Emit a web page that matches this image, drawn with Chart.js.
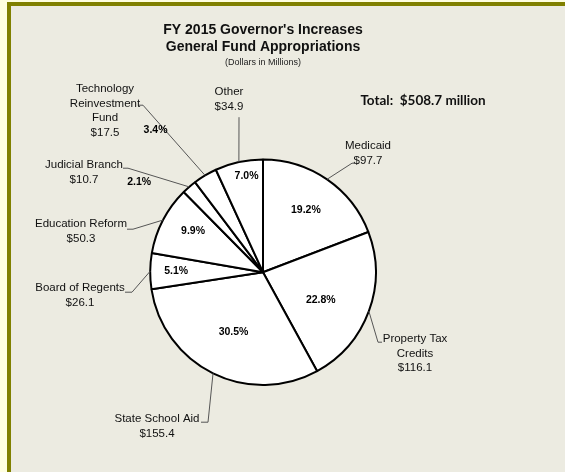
<!DOCTYPE html>
<html>
<head>
<meta charset="utf-8">
<script src="https://cdn.jsdelivr.net/npm/chart.js@4"></script>
<style>
  body { margin: 0; background: #ffffe0; }
  .frame { position: absolute; left: 7px; top: 2px; width: 600px; height: 500px;
           border-left: 4px solid #808000; border-top: 4px solid #808000; background: #ecebe1; }
  #pie { position: absolute; left: 0; top: 0; }
</style>
</head>
<body>
<div class="frame"></div>
<canvas id="pie" width="565" height="472"></canvas>
<script>
// data, clockwise from 12 o'clock
var categories = ["Medicaid", "Property Tax Credits", "State School Aid", "Board of Regents",
                  "Education Reform", "Judicial Branch", "Technology Reinvestment Fund", "Other"];
var amounts = [97.7, 116.1, 155.4, 26.1, 50.3, 10.7, 17.5, 34.9];
var percents = [19.2, 22.8, 30.5, 5.1, 9.9, 2.1, 3.4, 7.0];
var labelLines = [
  ["Medicaid"], ["Property Tax", "Credits"], ["State School Aid"], ["Board of Regents"],
  ["Education Reform"], ["Judicial Branch"], ["Technology", "Reinvestment", "Fund"], ["Other"]
];
var totalText = "Total:  $508.7 million";

// label layout (relative to pie centre)
var pctRadius = [0.67, 0.57, 0.59, 0.77, 0.72, 1.36, 1.58, 0.86];
var pctShift  = [0, 5.8, 0, 0, 3, -13, -6.2, 2.6];
var textPos   = [[105, -126], [152, 67], [-106, 147], [-183, 16], [-182, -48], [-179, -107], [-158, -183], [-34, -180]];
var elbowPos  = [[89, -109], [115, 70], [-55, 150], [-131, 20], [-130, -43], [-135, -104], [-120, -167], [-24, -155]];
var endPos    = [[92, -109], [119, 70], [-62, 150], [-138, 20], [-136, -43], [-140, -104], [-124, -167], [-24, -155]];

var pieLabels = {
  id: 'pieLabels',
  afterDatasetsDraw: function(chart) {
    var ctx = chart.ctx;
    var arcs = chart.getDatasetMeta(0).data;
    ctx.save();
    ctx.textAlign = 'center';
    ctx.textBaseline = 'middle';
    arcs.forEach(function(arc, i) {
      var p = arc.getProps(['x', 'y', 'startAngle', 'endAngle', 'outerRadius'], true);
      var mid = (p.startAngle + p.endAngle) / 2;

      // leader line
      ctx.strokeStyle = '#555';
      ctx.lineWidth = 1;
      ctx.beginPath();
      ctx.moveTo(p.x + Math.cos(mid) * p.outerRadius, p.y + Math.sin(mid) * p.outerRadius);
      ctx.lineTo(p.x + elbowPos[i][0], p.y + elbowPos[i][1]);
      ctx.lineTo(p.x + endPos[i][0], p.y + endPos[i][1]);
      ctx.stroke();

      // name + amount
      ctx.fillStyle = '#111';
      ctx.font = '11.5px "Liberation Sans", Arial, sans-serif';
      var lines = labelLines[i].concat(['$' + amounts[i].toFixed(1)]);
      lines.forEach(function(t, k) {
        ctx.fillText(t, p.x + textPos[i][0], p.y + textPos[i][1] + k * 14.5);
      });

      // percent
      var a = mid + pctShift[i] * Math.PI / 180;
      var r = pctRadius[i] * p.outerRadius;
      ctx.font = 'bold 10.5px "Liberation Sans", Arial, sans-serif';
      ctx.fillStyle = '#000';
      ctx.fillText(percents[i].toFixed(1) + '%', p.x + Math.cos(a) * r, p.y + Math.sin(a) * r);
    });

    var c = arcs[0];
    ctx.font = 'bold 13.5px Lato, "Open Sans", sans-serif';
    ctx.fillStyle = '#111';
    ctx.fillText(totalText, c.x + 160, c.y - 172);
    ctx.restore();
  }
};

new Chart(document.getElementById('pie'), {
  type: 'pie',
  data: {
    labels: categories,
    datasets: [{
      data: amounts,
      backgroundColor: '#ffffff',
      borderColor: '#000000',
      borderWidth: 2
    }]
  },
  options: {
    responsive: false,
    animation: false,
    layout: { padding: { left: 149, right: 188, top: 0, bottom: 86 } },
    plugins: {
      legend: { display: false },
      tooltip: { enabled: false },
      title: {
        display: true,
        text: ["FY 2015 Governor's Increases", "General Fund Appropriations"],
        color: '#111',
        font: { family: '"Liberation Sans", Arial, sans-serif', size: 14, weight: 'bold', lineHeight: 1.2 },
        padding: { top: 22, bottom: 0 }
      },
      subtitle: {
        display: true,
        text: '(Dollars in Millions)',
        color: '#222',
        font: { family: '"Liberation Sans", Arial, sans-serif', size: 9, lineHeight: 1.2 },
        padding: { top: 2, bottom: 90 }
      }
    }
  },
  plugins: [pieLabels]
});
</script>
</body>
</html>
